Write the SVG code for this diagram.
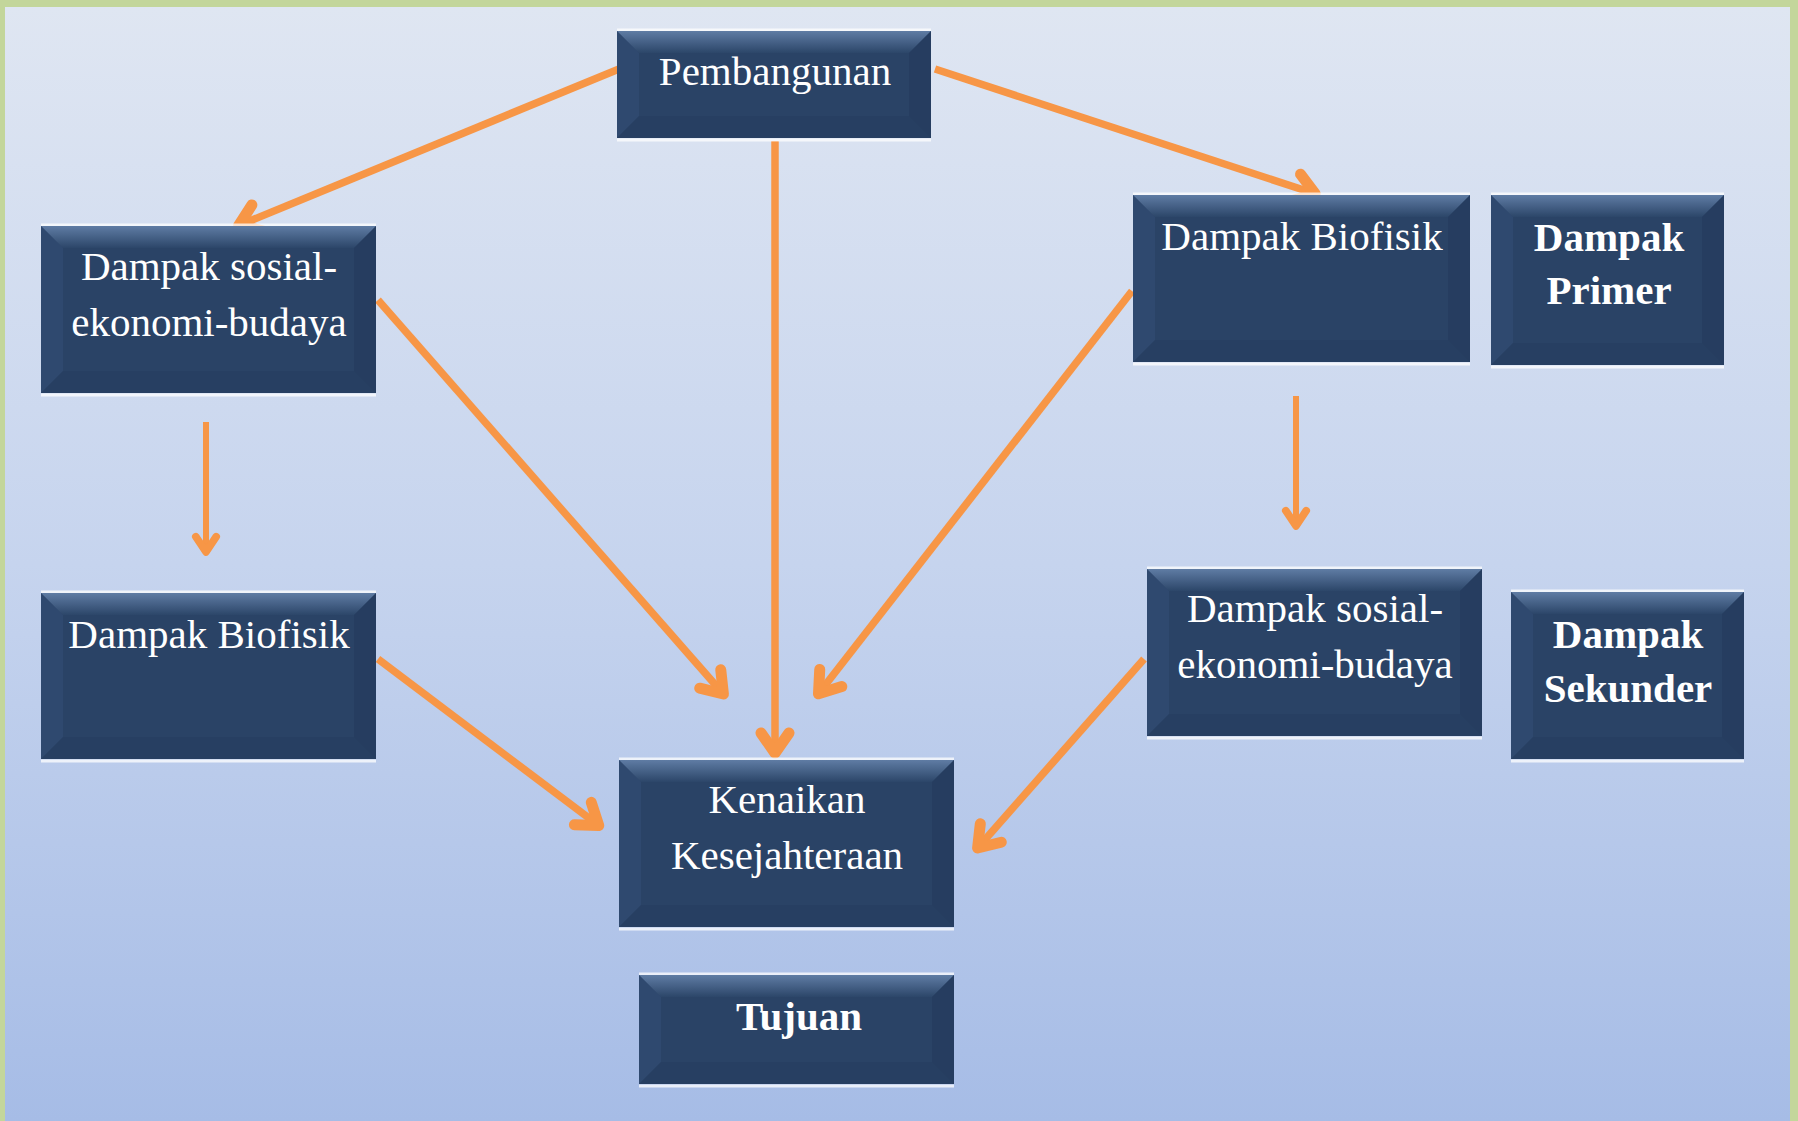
<svg xmlns="http://www.w3.org/2000/svg" width="1798" height="1121" viewBox="0 0 1798 1121">
<style>
.box{fill:#2a4366}
.tb{fill:url(#topbev)}
.lb{fill:#3a5a86;opacity:.3}
.rb{fill:#1e3352;opacity:.3}
.bb{fill:#1f3556;opacity:.25}
.hl{stroke:#ffffff;stroke-width:3;opacity:.75}
.t{font-family:"Liberation Serif","Times New Roman",serif;font-size:41px;fill:#ffffff;text-anchor:middle}
.b{font-weight:bold}
.c{stroke:#f79646;stroke-width:7.5;fill:none;marker-end:url(#ah)}
.c2{stroke:#f79646;stroke-width:6;fill:none;marker-end:url(#ah2)}
</style>
<defs>
<linearGradient id="bg" x1="0" y1="0" x2="0" y2="1">
<stop offset="0" stop-color="#dfe6f2"/>
<stop offset="0.5" stop-color="#c6d4ee"/>
<stop offset="1" stop-color="#a6bce6"/>
</linearGradient>
<linearGradient id="topbev" x1="0" y1="0" x2="0" y2="1">
<stop offset="0" stop-color="#5f7ca4"/>
<stop offset="1" stop-color="#2c4669"/>
</linearGradient>
<marker id="ah" viewBox="0 0 40 40" refX="30" refY="20" markerWidth="40" markerHeight="40" markerUnits="userSpaceOnUse" orient="auto">
<path d="M10,6 L30,20 L10,34" fill="none" stroke="#f79646" stroke-width="11" stroke-linejoin="round" stroke-linecap="round"/>
</marker>
<marker id="ah2" viewBox="0 0 40 40" refX="30" refY="20" markerWidth="34" markerHeight="34" markerUnits="userSpaceOnUse" orient="auto">
<path d="M12,8 L30,20 L12,32" fill="none" stroke="#f79646" stroke-width="9" stroke-linejoin="round" stroke-linecap="round"/>
</marker>
</defs>
<rect x="0" y="0" width="1798" height="1121" fill="#c3d69b"/>
<rect x="5" y="7" width="1785" height="1114" fill="url(#bg)"/>

<g id="connectors">
<line class="c" x1="619" y1="69" x2="238.7" y2="225.5"/>
<line class="c" x1="935" y1="69" x2="1315.2" y2="193.8"/>
<line class="c" x1="775" y1="141" x2="775" y2="753"/>
<line class="c" x1="378" y1="300" x2="723.4" y2="694"/>
<line class="c" x1="1132" y1="291" x2="818.5" y2="693.8"/>
<line class="c2" x1="206" y1="422" x2="206" y2="552"/>
<line class="c2" x1="1296" y1="396" x2="1296" y2="526"/>
<line class="c" x1="378" y1="659" x2="598.8" y2="825.6"/>
<line class="c" x1="1144" y1="659" x2="977.6" y2="848"/>
</g>

<g id="pembangunan">
<line class="hl" x1="617" y1="30" x2="931" y2="30"/>
<line class="hl" x1="617" y1="140" x2="931" y2="140"/>
<rect class="box" x="617" y="31" width="314" height="107"/>
<polygon class="tb" points="617,31 931,31 909,53 639,53"/>
<polygon class="lb" points="617,31 639,53 639,116 617,138"/>
<polygon class="rb" points="931,31 909,53 909,116 931,138"/>
<polygon class="bb" points="617,138 639,116 909,116 931,138"/>
<text class="t" x="775" y="85">Pembangunan</text>
</g>

<g id="sosial-kiri">
<line class="hl" x1="41" y1="225" x2="376" y2="225"/>
<line class="hl" x1="41" y1="395" x2="376" y2="395"/>
<rect class="box" x="41" y="226" width="335" height="167"/>
<polygon class="tb" points="41,226 376,226 354,248 63,248"/>
<polygon class="lb" points="41,226 63,248 63,371 41,393"/>
<polygon class="rb" points="376,226 354,248 354,371 376,393"/>
<polygon class="bb" points="41,393 63,371 354,371 376,393"/>
<text class="t" x="209" y="280">Dampak sosial-</text>
<text class="t" x="209" y="336">ekonomi-budaya</text>
</g>

<g id="biofisik-kiri">
<line class="hl" x1="41" y1="592" x2="376" y2="592"/>
<line class="hl" x1="41" y1="761" x2="376" y2="761"/>
<rect class="box" x="41" y="593" width="335" height="166"/>
<polygon class="tb" points="41,593 376,593 354,615 63,615"/>
<polygon class="lb" points="41,593 63,615 63,737 41,759"/>
<polygon class="rb" points="376,593 354,615 354,737 376,759"/>
<polygon class="bb" points="41,759 63,737 354,737 376,759"/>
<text class="t" x="209" y="648">Dampak Biofisik</text>
</g>

<g id="kenaikan">
<line class="hl" x1="619" y1="759" x2="954" y2="759"/>
<line class="hl" x1="619" y1="929" x2="954" y2="929"/>
<rect class="box" x="619" y="760" width="335" height="167"/>
<polygon class="tb" points="619,760 954,760 932,782 641,782"/>
<polygon class="lb" points="619,760 641,782 641,905 619,927"/>
<polygon class="rb" points="954,760 932,782 932,905 954,927"/>
<polygon class="bb" points="619,927 641,905 932,905 954,927"/>
<text class="t" x="787" y="813">Kenaikan</text>
<text class="t" x="787" y="869">Kesejahteraan</text>
</g>

<g id="tujuan">
<line class="hl" x1="639" y1="974" x2="954" y2="974"/>
<line class="hl" x1="639" y1="1086" x2="954" y2="1086"/>
<rect class="box" x="639" y="975" width="315" height="109"/>
<polygon class="tb" points="639,975 954,975 932,997 661,997"/>
<polygon class="lb" points="639,975 661,997 661,1062 639,1084"/>
<polygon class="rb" points="954,975 932,997 932,1062 954,1084"/>
<polygon class="bb" points="639,1084 661,1062 932,1062 954,1084"/>
<text class="t b" x="799" y="1030">Tujuan</text>
</g>

<g id="biofisik-kanan">
<line class="hl" x1="1133" y1="194" x2="1470" y2="194"/>
<line class="hl" x1="1133" y1="364" x2="1470" y2="364"/>
<rect class="box" x="1133" y="195" width="337" height="167"/>
<polygon class="tb" points="1133,195 1470,195 1448,217 1155,217"/>
<polygon class="lb" points="1133,195 1155,217 1155,340 1133,362"/>
<polygon class="rb" points="1470,195 1448,217 1448,340 1470,362"/>
<polygon class="bb" points="1133,362 1155,340 1448,340 1470,362"/>
<text class="t" x="1302" y="250">Dampak Biofisik</text>
</g>

<g id="dampak-primer">
<line class="hl" x1="1491" y1="194" x2="1724" y2="194"/>
<line class="hl" x1="1491" y1="367" x2="1724" y2="367"/>
<rect class="box" x="1491" y="195" width="233" height="170"/>
<polygon class="tb" points="1491,195 1724,195 1702,217 1513,217"/>
<polygon class="lb" points="1491,195 1513,217 1513,343 1491,365"/>
<polygon class="rb" points="1724,195 1702,217 1702,343 1724,365"/>
<polygon class="bb" points="1491,365 1513,343 1702,343 1724,365"/>
<text class="t b" x="1609" y="251">Dampak</text>
<text class="t b" x="1609" y="304">Primer</text>
</g>

<g id="sosial-kanan">
<line class="hl" x1="1147" y1="568" x2="1482" y2="568"/>
<line class="hl" x1="1147" y1="738" x2="1482" y2="738"/>
<rect class="box" x="1147" y="569" width="335" height="167"/>
<polygon class="tb" points="1147,569 1482,569 1460,591 1169,591"/>
<polygon class="lb" points="1147,569 1169,591 1169,714 1147,736"/>
<polygon class="rb" points="1482,569 1460,591 1460,714 1482,736"/>
<polygon class="bb" points="1147,736 1169,714 1460,714 1482,736"/>
<text class="t" x="1315" y="622">Dampak sosial-</text>
<text class="t" x="1315" y="678">ekonomi-budaya</text>
</g>

<g id="dampak-sekunder">
<line class="hl" x1="1511" y1="591" x2="1744" y2="591"/>
<line class="hl" x1="1511" y1="761" x2="1744" y2="761"/>
<rect class="box" x="1511" y="592" width="233" height="167"/>
<polygon class="tb" points="1511,592 1744,592 1722,614 1533,614"/>
<polygon class="lb" points="1511,592 1533,614 1533,737 1511,759"/>
<polygon class="rb" points="1744,592 1722,614 1722,737 1744,759"/>
<polygon class="bb" points="1511,759 1533,737 1722,737 1744,759"/>
<text class="t b" x="1628" y="648">Dampak</text>
<text class="t b" x="1628" y="702">Sekunder</text>
</g>
</svg>
